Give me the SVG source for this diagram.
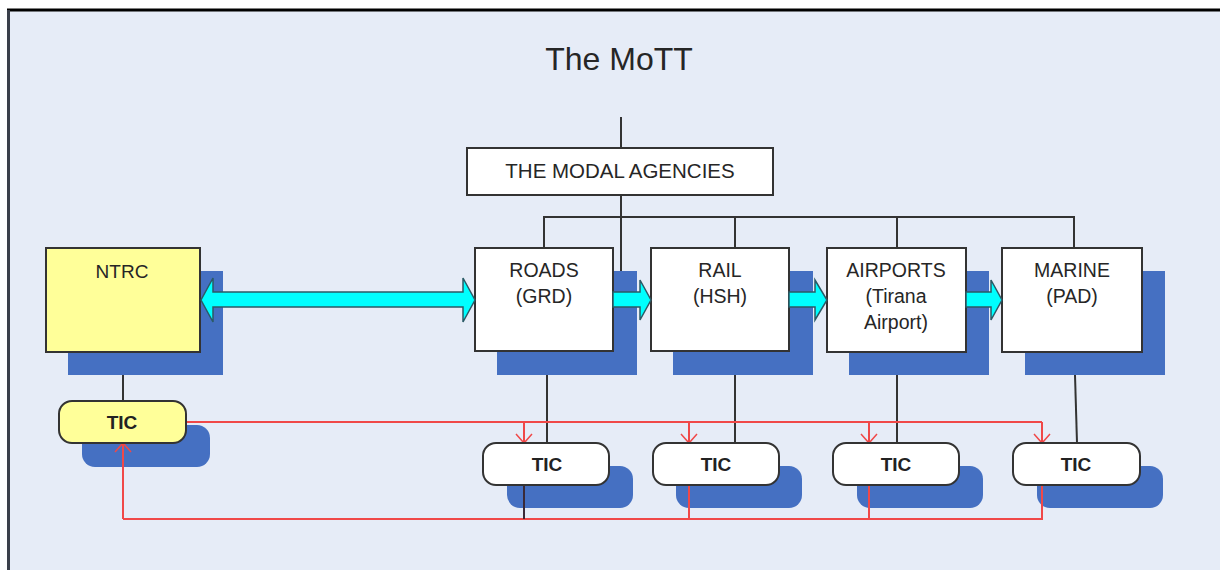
<svg xmlns="http://www.w3.org/2000/svg" width="1220" height="570" viewBox="0 0 1220 570">
<defs>
<style>
.t{font-family:"Liberation Sans",Arial,sans-serif;fill:#262626;text-anchor:middle}
.box{fill:#ffffff;stroke:#333333;stroke-width:2}
.ybox{fill:#ffff99;stroke:#333333;stroke-width:2}
.sh{fill:#4570c2}
.ln{stroke:#333333;stroke-width:2;fill:none}
.red{stroke:#f04848;stroke-width:2;fill:none}
.arr{fill:#00ffff;stroke:#2b5a66;stroke-width:1.5}
.tic{font-family:"Liberation Sans",Arial,sans-serif;font-weight:bold;font-size:19px;fill:#222;text-anchor:middle}
</style>
<marker id="v" viewBox="-2 -10 14 20" refX="9" refY="0" markerWidth="14" markerHeight="20" markerUnits="userSpaceOnUse" orient="auto" overflow="visible">
<path d="M0,-8 L9,0 L0,8" fill="none" stroke="#f04848" stroke-width="1.5"/>
</marker>
</defs>
<rect x="0" y="0" width="1220" height="570" fill="#ffffff"/>
<rect x="8" y="10" width="1212" height="560" fill="#e6ecf7"/>
<line x1="7" y1="10" x2="1220" y2="10" stroke="#000" stroke-width="3"/>
<line x1="8.5" y1="10" x2="8.5" y2="570" stroke="#3a3f4a" stroke-width="3"/>

<g id="title"><text class="t" x="619" y="70" font-size="32">The MoTT</text></g>

<g id="connectors">
<line class="ln" x1="621" y1="117" x2="621" y2="290"/>
<polyline class="ln" points="544,247 544,217 1074,217 1074,247"/>
<line class="ln" x1="735" y1="217" x2="735" y2="247"/>
<line class="ln" x1="897" y1="217" x2="897" y2="247"/>
<line class="ln" x1="123" y1="352" x2="123" y2="401"/>
<line class="ln" x1="547" y1="375" x2="547" y2="443"/>
<line class="ln" x1="735" y1="375" x2="735" y2="443"/>
<line class="ln" x1="897" y1="375" x2="897" y2="443"/>
<line class="ln" x1="1075" y1="375" x2="1077" y2="443"/>
</g>

<g id="shadows">
<rect class="sh" x="68" y="271" width="155" height="104"/>
<rect class="sh" x="497" y="271" width="140" height="104"/>
<rect class="sh" x="673" y="271" width="140" height="104"/>
<rect class="sh" x="849" y="271" width="140" height="104"/>
<rect class="sh" x="1025" y="271" width="140" height="104"/>
<rect class="sh" x="82" y="425" width="128" height="42" rx="13"/>
<rect class="sh" x="507" y="466" width="126" height="42" rx="13"/>
<rect class="sh" x="676" y="466" width="126" height="42" rx="13"/>
<rect class="sh" x="857" y="466" width="126" height="42" rx="13"/>
<rect class="sh" x="1037" y="466" width="126" height="42" rx="13"/>
</g>

<g id="modal-agencies">
<rect class="box" x="467" y="148" width="306" height="47"/>
<text class="t" x="620" y="178" font-size="20.5">THE MODAL AGENCIES</text>
</g>

<g id="ntrc">
<rect class="ybox" x="46" y="248" width="154" height="104"/>
<text class="t" x="122" y="278" font-size="19">NTRC</text>
</g>

<g id="roads">
<rect class="box" x="475" y="248" width="138" height="103"/>
<text class="t" x="544" y="277" font-size="19.5">ROADS</text>
<text class="t" x="544" y="303" font-size="19.5">(GRD)</text>
</g>

<g id="rail">
<rect class="box" x="651" y="248" width="138" height="103"/>
<text class="t" x="720" y="277" font-size="19.5">RAIL</text>
<text class="t" x="720" y="303" font-size="19.5">(HSH)</text>
</g>

<g id="airports">
<rect class="box" x="827" y="248" width="139" height="104"/>
<text class="t" x="896" y="277" font-size="19.5">AIRPORTS</text>
<text class="t" x="896" y="303" font-size="19.5">(Tirana</text>
<text class="t" x="896" y="329" font-size="19.5">Airport)</text>
</g>

<g id="marine">
<rect class="box" x="1002" y="248" width="140" height="104"/>
<text class="t" x="1072" y="277" font-size="19.5">MARINE</text>
<text class="t" x="1072" y="303" font-size="19.5">(PAD)</text>
</g>

<g id="flow-arrows">
<path class="arr" d="M201,300 L213,278 L213,292 L463,292 L463,278 L475,300 L463,322 L463,307 L213,307 L213,322 Z"/>
<path class="arr" d="M613,292 L640,292 L640,280 L651,300 L640,320 L640,307 L613,307 Z"/>
<path class="arr" d="M789,292 L815,292 L815,280 L827,300 L815,320 L815,307 L789,307 Z"/>
<path class="arr" d="M966,292 L991,292 L991,280 L1002,300 L991,320 L991,307 L966,307 Z"/>
</g>

<g id="red-links">
<polyline class="red" points="186,422 1042,422"/>
<line class="red" x1="524" y1="422" x2="524" y2="443" marker-end="url(#v)"/>
<line class="red" x1="689" y1="422" x2="689" y2="443" marker-end="url(#v)"/>
<line class="red" x1="869" y1="422" x2="869" y2="443" marker-end="url(#v)"/>
<line class="red" x1="1042" y1="422" x2="1042" y2="443" marker-end="url(#v)"/>
<polyline class="red" points="1042,485 1042,519 123,519"/>
<line class="red" x1="123" y1="519" x2="123" y2="443" marker-end="url(#v)"/>
<line x1="524" y1="485" x2="524" y2="519" stroke="#3a2a38" stroke-width="2"/>
<line class="red" x1="689" y1="485" x2="689" y2="519"/>
<line class="red" x1="869" y1="485" x2="869" y2="519"/>
</g>

<g id="tic-ntrc">
<rect class="ybox" x="59" y="401" width="127" height="42" rx="13"/>
<text class="tic" x="122" y="429">TIC</text>
</g>
<g id="tic-roads">
<rect class="box" x="483" y="443" width="126" height="42" rx="13"/>
<text class="tic" x="547" y="471">TIC</text>
</g>
<g id="tic-rail">
<rect class="box" x="653" y="443" width="126" height="42" rx="13"/>
<text class="tic" x="716" y="471">TIC</text>
</g>
<g id="tic-airports">
<rect class="box" x="833" y="443" width="126" height="42" rx="13"/>
<text class="tic" x="896" y="471">TIC</text>
</g>
<g id="tic-marine">
<rect class="box" x="1013" y="443" width="127" height="42" rx="13"/>
<text class="tic" x="1076" y="471">TIC</text>
</g>
</svg>
